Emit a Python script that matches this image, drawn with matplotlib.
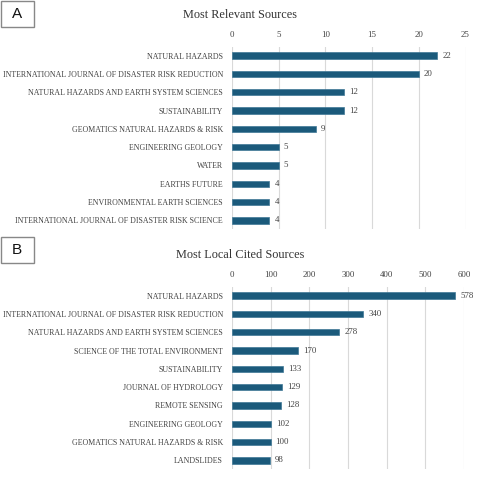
import matplotlib.pyplot as plt
from matplotlib.patches import Rectangle

# panel A data
rel_sources = ["NATURAL HAZARDS",
               "INTERNATIONAL JOURNAL OF DISASTER RISK REDUCTION",
               "NATURAL HAZARDS AND EARTH SYSTEM SCIENCES",
               "SUSTAINABILITY",
               "GEOMATICS NATURAL HAZARDS & RISK",
               "ENGINEERING GEOLOGY",
               "WATER",
               "EARTHS FUTURE",
               "ENVIRONMENTAL EARTH SCIENCES",
               "INTERNATIONAL JOURNAL OF DISASTER RISK SCIENCE"]
rel_counts = [22, 20, 12, 12, 9, 5, 5, 4, 4, 4]
rel_ticks = [0, 5, 10, 15, 20, 25]

# panel B data
cited_sources = ["NATURAL HAZARDS",
                 "INTERNATIONAL JOURNAL OF DISASTER RISK REDUCTION",
                 "NATURAL HAZARDS AND EARTH SYSTEM SCIENCES",
                 "SCIENCE OF THE TOTAL ENVIRONMENT",
                 "SUSTAINABILITY",
                 "JOURNAL OF HYDROLOGY",
                 "REMOTE SENSING",
                 "ENGINEERING GEOLOGY",
                 "GEOMATICS NATURAL HAZARDS & RISK",
                 "LANDSLIDES"]
cited_counts = [578, 340, 278, 170, 133, 129, 128, 102, 100, 98]
cited_ticks = [0, 100, 200, 300, 400, 500, 600]

BAR = "#1b5a7b"
SERIF = "Liberation Serif"
W, H = 480, 480


def px(x0, y0, x1, y1):
    # pixel box (top-left origin) -> figure fraction rect
    return [x0 / W, 1 - y1 / H, (x1 - x0) / W, (y1 - y0) / H]


def panel(fig, rect, names, vals, ticks, title, title_y, letter, box):
    ax = fig.add_axes(rect)
    y = list(range(len(names)))
    ax.barh(y, vals, height=0.35, color=BAR, edgecolor="#3f7896", linewidth=0.5, zorder=3)
    ax.set_ylim(len(names) - 0.53, -0.47)
    ax.set_xlim(ticks[0], ticks[-1])
    ax.set_xticks(ticks)
    ax.xaxis.tick_top()
    ax.tick_params(axis="x", length=0, pad=6, labelsize=6.3, labelcolor="#404040")
    ax.tick_params(axis="y", length=0, pad=6.5, labelsize=5.7, labelcolor="#404040")
    ax.set_yticks(y)
    ax.set_yticklabels(names)
    for lbl in ax.get_xticklabels() + ax.get_yticklabels():
        lbl.set_fontfamily(SERIF)
    ax.grid(axis="x", color="#d9d9d9", linewidth=0.8, zorder=0)
    for s in ax.spines.values():
        s.set_visible(False)
    step = ticks[-1] / 233.0
    for yi, v in zip(y, vals):
        ax.text(v + 5 * step, yi, str(v), va="center", ha="left",
                fontsize=6.3, family=SERIF, color="#404040")
    fig.text(0.5, 1 - title_y / H, title, ha="center", va="center",
             fontsize=8.8, family=SERIF, color="#333333")
    bx0, by0, bx1, by1 = box
    fig.patches.append(Rectangle((bx0 / W, 1 - by1 / H), (bx1 - bx0) / W, (by1 - by0) / H,
                                 transform=fig.transFigure, facecolor="white",
                                 edgecolor="#888888", linewidth=1.0))
    fig.text((bx0 + bx1) / 2 / W, 1 - (by0 + by1) / 2 / H, letter, ha="center",
             va="center", fontsize=11, family="Liberation Sans", color="#111111")
    return ax


fig = plt.figure(figsize=(4.8, 4.8), dpi=100)
panel(fig, px(232, 47, 465.5, 229), rel_sources, rel_counts, rel_ticks,
      "Most Relevant Sources", 15, "A", (0.5, 0.5, 34, 27))
panel(fig, px(232, 287, 464, 469), cited_sources, cited_counts, cited_ticks,
      "Most Local Cited Sources", 255, "B", (0.5, 237, 34, 263))
fig.savefig("out.png", dpi=100)
